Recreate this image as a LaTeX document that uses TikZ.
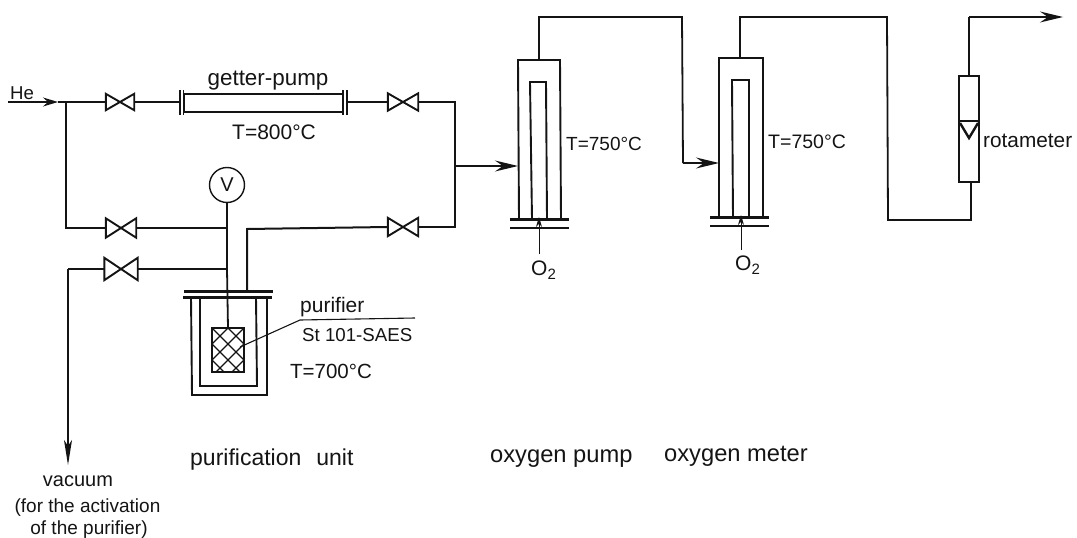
\documentclass[tikz,border=0pt]{standalone}
\usepackage{fontspec}
\setmainfont{Liberation Sans}
\usetikzlibrary{arrows.meta}
\definecolor{ink}{RGB}{20,20,20}
\tikzset{
  x=1pt,y=-1pt,
  pipe/.style={draw=ink,line width=1.8pt,line join=miter},
  thin pipe/.style={draw=ink,line width=1.1pt},
  wall/.style={draw=ink,line width=1.9pt},
  plate/.style={draw=ink,line width=2.4pt},
  flow/.style={draw=ink,line width=1.4pt,-{Stealth[length=23pt,width=11pt,inset=8pt]}},
  shortflow/.style={draw=ink,line width=1.3pt,-{Stealth[length=15pt,width=9pt,inset=5pt]}},
  narrowflow/.style={draw=ink,line width=1.7pt,-{Stealth[length=25pt,width=8pt,inset=6pt]}},
  o2flow/.style={draw=ink,line width=0.9pt,-{Stealth[length=10pt,width=6pt]}},
  lbl/.style={inner sep=0pt,text=ink,font=\fontsize{#1}{#1}\selectfont},
  valvebox/.style 2 args={inner sep=0pt,minimum width=#1,minimum height=#2}
}
\newcommand{\valveat}[5]{%
  \node[valvebox={#4}{#5}] (#1) at (#2,#3) {};
  \draw[pipe,line width=1.9pt,line join=miter] (#1.north west) -- (#1.south east) -- (#1.north east) -- (#1.south west) -- cycle;
}
\newcommand{\otwo}{O\raisebox{-4pt}{\fontsize{15}{15}\selectfont 2}}
\begin{document}
\begin{tikzpicture}
\useasboundingbox (0,0) rectangle (1077,538);
% valves
\valveat{v1}{120}{102}{28pt}{16pt}
\valveat{v2}{403}{102}{30pt}{17pt}
\valveat{v3}{121}{228}{30pt}{19pt}
\valveat{v4}{403}{227}{30pt}{18pt}
\valveat{v5}{121}{269}{33pt}{22pt}
% getter pump
\node[draw=ink,line width=1.5pt,minimum width=159pt,minimum height=18pt,inner sep=0pt] (tube) at (263.5,103) {};
\coordinate (gl) at (180,102); \coordinate (gr) at (347,102);
\draw[plate,line width=1.5pt] (180,90) -- (180,115) (183.5,90) -- (183.5,115);
\draw[plate,line width=1.5pt] (343,90) -- (343,115) (347,90) -- (347,115);
% voltmeter
\node[draw=ink,line width=1.4pt,circle,minimum size=35pt,inner sep=0pt,lbl=20] (V) at (227,185) {V};
% He line
\coordinate (hestart) at (8,102);
\coordinate (hetip) at (58,102);
\coordinate (j1) at (66,102);
\draw[shortflow] (hestart) -- (hetip);
\draw[pipe] (hetip) -- (j1) -- (v1.west);
\draw[pipe] (v1.east) -- (gl);
\draw[pipe] (gr) -- (v2.west);
\coordinate (r1) at (455,102);
\coordinate (r2) at (455,227);
\coordinate (r3) at (455,166);
\draw[pipe] (v2.east) -- (r1) -- (r2) -- (v4.east);
\draw[pipe] (j1) -- (66,228) -- (v3.west);
\coordinate (c1) at (227,228);
\draw[pipe,line width=2pt] (v3.east) -- (c1);
\draw[pipe,line width=2pt] (v4.west) -- (247,229) -- (247,291);
% stem
\coordinate (c2) at (227,269);
\draw[pipe] (V.south) -- (c1) -- (c2) -- (228,328);
\draw[pipe] (v5.east) -- (c2);
\coordinate (vacturn) at (68,269);
\coordinate (vactip) at (68,465);
\draw[pipe] (v5.west) -- (vacturn);
\draw[narrowflow] (vacturn) -- (vactip);
% purifier vessel
\draw[plate] (184,291.5) -- (273,291.5);
\draw[plate] (183,297.5) -- (272,297.5);
\draw[wall] (191,297) -- (192,395) -- (267,395) -- (267,297);
\draw[wall] (200,297) -- (200,386) -- (257,386) -- (256,297);
\node[draw=ink,line width=1.9pt,minimum width=32pt,minimum height=44pt,inner sep=0pt] (pur) at (228,350) {};
\begin{scope}
\clip (pur.south west) rectangle (pur.north east);
\foreach \k in {-32,-16,...,64} {
  \draw[ink,line width=1.4pt] (212+\k,328) -- ++(44,44);
  \draw[ink,line width=1.4pt] (244-\k,328) -- ++(-44,44);
}
\end{scope}
\coordinate (lead) at (240,347);
\draw[thin pipe] (lead) -- (300,320) -- (415,318);
\node[lbl=21,anchor=base west] (tpurifier) at (300,312) {purifier};
\node[lbl=18.7,anchor=base west] (tsaes) at (302,341) {St 101-SAES};
\node[lbl=20.5,anchor=base west] (t700) at (290,378) {T=700°C};
% oxygen pump
\draw[wall] (519,219) -- (518,60) -- (560,60) -- (561,219);
\draw[wall] (532,219) -- (530,82) -- (546,82) -- (547,219);
\draw[plate] (510,219.5) -- (569,219.5);
\draw[plate] (510,228) -- (569,228);
\coordinate (p1top) at (539,60);
\coordinate (p1in) at (518,166);
\coordinate (o1) at (539,254);
\coordinate (o1tip) at (539,217);
\draw[flow] (r3) -- (p1in);
\draw[o2flow] (o1) -- (o1tip);
% oxygen meter
\draw[wall] (719,217) -- (719,58) -- (763,58) -- (763,217);
\draw[wall] (733,217) -- (732,80) -- (749,80) -- (749,217);
\draw[plate] (710,217.5) -- (769,217.5);
\draw[plate] (710,226) -- (769,226);
\coordinate (p2top) at (740,58);
\coordinate (p2in) at (719,163);
\coordinate (o2) at (741,250);
\coordinate (o2tip) at (741,215);
\draw[o2flow] (o2) -- (o2tip);
% connection pump to meter
\draw[pipe] (p1top) -- (539,17) -- (682,17) -- (683,163);
\draw[flow] (683,163) -- (p2in);
% rotameter
\node[draw=ink,line width=1.5pt,minimum width=20pt,minimum height=106pt,inner sep=0pt] (rot) at (969,129) {};
\draw[pipe] (rot.west |- 0,121) -- (rot.east |- 0,121);
\draw[ink,line width=2.4pt] (960,123) -- (969,138) -- (978,123);
\coordinate (outturn) at (969,17);
\coordinate (outtip) at (1063,17);
\draw[pipe] (p2top) -- (740,17) -- (887,17) -- (888,220) -- (971,220) -- (971,182);
\draw[pipe] (rot.north) -- (outturn);
\draw[flow] (outturn) -- (outtip);
% labels
\node[lbl=18.6,anchor=base west] (the) at (10,99) {He};
\node[lbl=22.4,anchor=base] (tgp) at (268,85) {getter-pump};
\node[lbl=21,anchor=base west] (t800) at (232,139) {T=800°C};
\node[lbl=19,anchor=base west] (t750a) at (566,150) {T=750°C};
\node[lbl=19.5,anchor=base west] (t750b) at (768,148) {T=750°C};
\node[lbl=21,anchor=base west] (to1) at (531,275) {\otwo};
\node[lbl=21,anchor=base west] (to2) at (735,270) {\otwo};
\node[lbl=20.8,anchor=base west] (trot) at (983,147) {rotameter};
\node[lbl=23,anchor=base west] (tpu) at (190,465) {purification\hspace{15pt}unit};
\node[lbl=23.7,anchor=base west] (top) at (490,462) {oxygen pump};
\node[lbl=23.7,anchor=base west] (tom) at (664,461) {oxygen meter};
\node[lbl=20,anchor=base] (tv) at (78,486) {vacuum};
\node[lbl=19,anchor=base] (tf) at (87.5,512) {(for the activation};
\node[lbl=19,anchor=base] (tof) at (89,534) {of the purifier)};
\end{tikzpicture}
\end{document}
